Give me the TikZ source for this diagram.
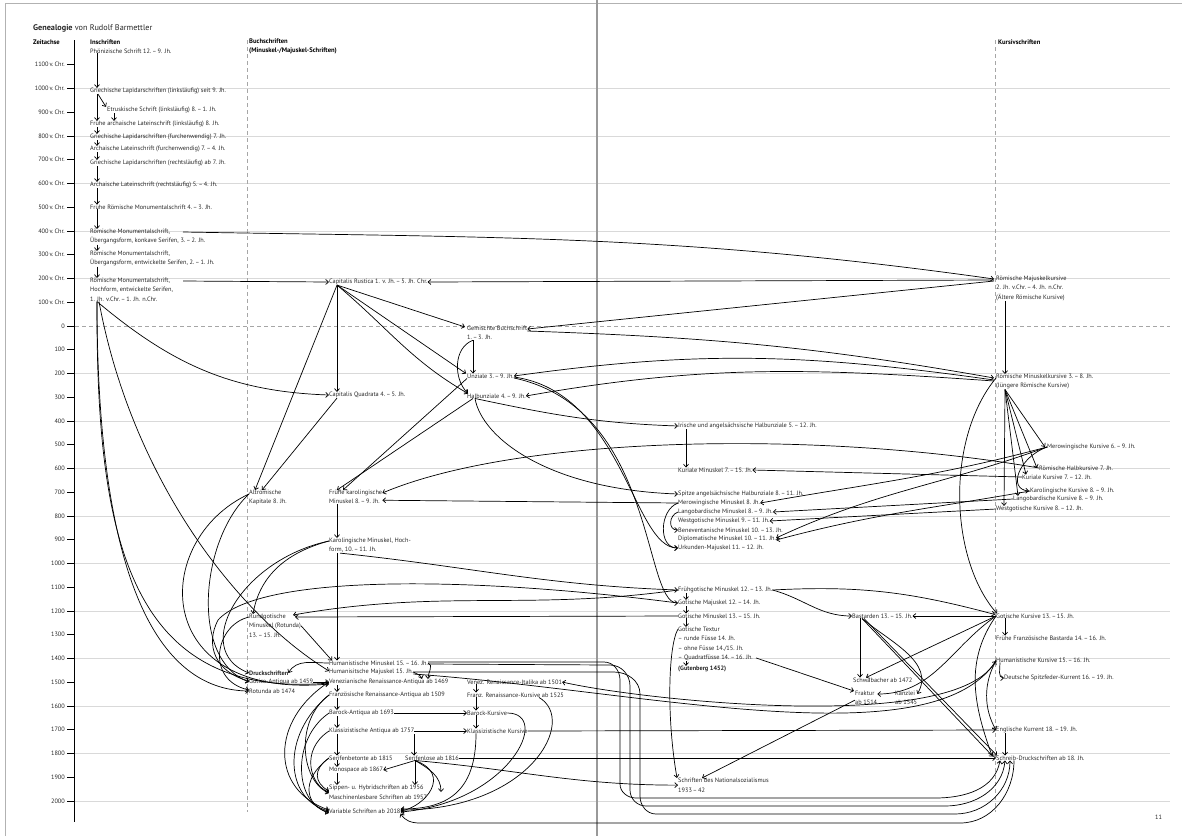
\documentclass[tikz,border=0pt]{standalone}
\usepackage{fontspec}
\setmainfont{PT Sans}
\usepackage{tikz}
\usetikzlibrary{arrows.meta}

\begin{document}
\begin{tikzpicture}[x=1pt,y=-1pt,
  every node/.style={font=\fontsize{6.3}{9.3}\selectfont, text=black!85, inner sep=0pt, anchor=west},
  multi/.style={anchor=north west, align=left},
  head/.style={font=\fontsize{6.6}{8.4}\selectfont\bfseries, text=black},
  arr/.style={-{Straight Barb[length=2.8pt,width=5pt]}, line width=0.7pt},
  grid/.style={black!15, line width=0.8pt},
  guide/.style={black!35, line width=0.6pt, dash pattern=on 4pt off 3pt}]
\useasboundingbox (0,0) rectangle (1182,836);

% Raster und Zeitachse
\draw[black!30, line width=0.8pt] (5,836) -- (5,3) -- (1182,3);
\foreach \t in {-1000,-800,...,2000}{
  \ifnum\t=0 \else
    \draw[grid] (75,{326+0.2375*\t}) -- (1170,{326+0.2375*\t});
  \fi}
\draw[guide] (75,326) -- (1170,326);
\draw[guide] (247,40) -- (247,812);
\draw[guide] (995,40) -- (995,812);
\draw[black!40, line width=1.4pt] (597,0) -- (597,836);
\draw[line width=0.9pt] (74,40) -- (74,822);
\foreach \t in {-1100,-1000,...,2000}{
  \pgfmathsetmacro\yy{326+0.2375*\t}
  \pgfmathtruncatemacro\aa{abs(\t)}
  \draw[line width=0.6pt] (67,\yy) -- (74,\yy);
  \ifnum\t<0 \node[anchor=east] (yr\t) at (65,\yy) {\aa\,v.\,Chr.};
  \else \node[anchor=east] (yr\t) at (65,\yy) {\aa};\fi
}

% Ueberschriften
\node (title) at (33,28) {\fontsize{8.2}{9}\selectfont\textbf{Genealogie} von Rudolf Barmettler};
\node[head] (hzeit) at (33,42) {Zeitachse};
\node[head] (hinsch) at (90,42) {Inschriften};
\node[head,multi] (hbuch) at (249,39) {Buchschriften\\(Minuskel-/Majuskel-Schriften)};
\node[head] (hkurs) at (998,42) {Kursivschriften};
\node (pnum) at (1155,817) {11};

% Inschriften
\node (phoe) at (90,51) {Phönizische Schrift 12.\,–\,9. Jh.};
\node (grl) at (90,91) {Griechische Lapidarschriften (linksläufig) seit 9. Jh.};
\node (etr) at (107,110) {Etruskische Schrift (linksläufig) 8.\,–\,1. Jh.};
\node (fal) at (90,124) {Frühe archaische Lateinschrift (linksläufig) 8. Jh.};
\node (grf) at (90,137) {Griechische Lapidarschriften (furchenwendig) 7. Jh.};
\node (alf) at (90,149) {Archaische Lateinschrift (furchenwendig) 7.\,–\,4. Jh.};
\node (grr) at (90,163) {Griechische Lapidarschriften (rechtsläufig) ab 7. Jh.};
\node (alr) at (90,185) {Archaische Lateinschrift (rechtsläufig) 5.\,–\,4. Jh.};
\node (frm) at (90,207) {Frühe Römische Monumentalschrift 4.\,–\,3. Jh.};
\node[multi] (rmk) at (90,229) {Römische Monumentalschrift,\\Übergangsform, konkave Serifen, 3.\,–\,2. Jh.};
\node[multi] (rme) at (90,251) {Römische Monumentalschrift,\\Übergangsform, entwickelte Serifen, 2.\,–\,1. Jh.};
\node[multi] (rmh) at (90,278) {Römische Monumentalschrift,\\Hochform, entwickelte Serifen,\\1. Jh. v.Chr.\,–\,1. Jh. n.Chr.};

% Buchschriften
\node (crus) at (329,282) {Capitalis Rustica 1. v. Jh.\,–\,5. Jh. Chr.};
\node (cqua) at (329,395) {Capitalis Quadrata 4.\,–\,5. Jh.};
\node[multi] (gemb) at (467,326) {Gemischte Buchschrift\\1.\,–\,3. Jh.};
\node (unz) at (467,376) {Unziale 3.\,–\,9. Jh.};
\node (hunz) at (467,396) {Halbunziale 4.\,–\,9. Jh.};
\node[multi] (altk) at (249,490) {Altrömische\\Kapitale 8. Jh.};
\node[multi] (fkar) at (329,490) {Frühe karolingische\\Minuskel 8.\,–\,9. Jh.};
\node[multi] (kar) at (329,538) {Karolingische Minuskel, Hoch-\\form, 10.\,–\,11. Jh.};
\node[multi] (rund) at (249,614) {Rundgotische\\Minuskel (Rotunda)\\13.\,–\,15. Jh.};
\node (humi) at (329,663) {Humanistische Minuskel 15.\,–\,16. Jh.};
\node (huma) at (329,672) {Humanisitsche Majuskel 15. Jh.};
\node[font=\fontsize{6.3}{9.3}\selectfont\bfseries] (druck) at (249,673) {Druckschriften};
\node (gant) at (249,682) {Gotico-Antiqua ab 1459};
\node (rot) at (249,691) {Rotunda ab 1474};
\node (vena) at (329,682) {Venezianische Renaissance-Antiqua ab 1469};
\node (fran) at (329,695) {Französische Renaissance-Antiqua ab 1509};
\node (vita) at (467,682) {Venez. Renaissance-Italika ab 1501};
\node (fkur) at (467,695) {Franz. Renaissance-Kursive ab 1525};
\node (bant) at (329,713) {Barock-Antiqua ab 1693};
\node (bkur) at (467,713) {Barock-Kursive};
\node (kant) at (329,731) {Klassizistische Antiqua ab 1757};
\node (kkur) at (467,731) {Klassizistische Kursive};
\node (sbet) at (329,758) {Serifenbetonte ab 1815};
\node (slos) at (405,758) {Serifenlose ab 1816};
\node (mono) at (329,770) {Monospace ab 1867};
\node[multi] (sipp) at (329,785) {Sippen- u. Hybridschriften ab 1956\\Maschinenlesbare Schriften ab 1957};
\node (var) at (329,811) {Variable Schriften ab 2018};

% Mitte
\node (iri) at (678,426) {Irische und angelsächsische Halbunziale 5.\,–\,12. Jh.};
\node (kurm) at (678,470) {Kuriale Minuskel 7.\,–\,15. Jh.};
\node (spit) at (678,494) {Spitze angelsächsische Halbunziale 8.\,–\,11. Jh.};
\node (merm) at (678,503) {Merowingische Minuskel 8. Jh.};
\node (lanm) at (678,512) {Langobardische Minuskel 8.\,–\,9. Jh.};
\node (wesm) at (678,521) {Westgotische Minuskel 9.\,–\,11. Jh.};
\node (benm) at (678,530) {Beneventanische Minuskel 10.\,–\,13. Jh.};
\node (dipm) at (678,539) {Diplomatische Minuskel 10.\,–\,11. Jh.};
\node (urk) at (678,548) {Urkunden-Majuskel 11.\,–\,12. Jh.};
\node (frgm) at (678,590) {Frühgotische Minuskel 12.\,–\,13. Jh.};
\node (gmaj) at (678,603) {Gotische Majuskel 12.\,–\,14. Jh.};
\node (gmin) at (678,616) {Gotische Minuskel 13.\,–\,15. Jh.};
\node[multi] (textur) at (678,627) {Gotische Textur\\– runde Füsse 14. Jh.\\– ohne Füsse 14./15. Jh.\\– Quadratfüsse 14.\,–\,16. Jh.};
\node[font=\fontsize{6.3}{9.3}\selectfont\bfseries] (gut) at (678,669) {(Gutenberg 1452)};
\node[multi] (nazi) at (678,778) {Schriften des Nationalsozialismus\\1933\,–\,42};
\node (bast) at (852,616) {Bastarden 13.\,–\,15. Jh.};
\node (schw) at (853,680) {Schwabacher ab 1472};
\node[multi] (frak) at (855,691) {Fraktur\\ab 1514};
\node[multi] (kanz) at (895,691) {Kanzlei\\ab 1545};

% Kursivschriften
\node[multi] (rmaj) at (996,276) {Römische Majuskelkursive\\2. Jh. v.Chr.\,–\,4. Jh. n.Chr.\\(Ältere Römische Kursive)};
\node[multi] (rmin) at (996,374) {Römische Minuskelkursive 3.\,–\,8. Jh.\\(Jüngere Römische Kursive)};
\node (merk) at (1047,447) {Merowingische Kursive 6.\,–\,9. Jh.};
\node (rhalb) at (1039,468) {Römische Halbkursive 7. Jh.};
\node (kurk) at (1022,477) {Kuriale Kursive 7.\,–\,12. Jh.};
\node (kark) at (1030,491) {Karolingische Kursive 8.\,–\,9. Jh.};
\node (lank) at (1013,499) {Langobardische Kursive 8.\,–\,9. Jh.};
\node (wesk) at (996,509) {Westgotische Kursive 8.\,–\,12. Jh.};
\node (gkur) at (996,616) {Gotische Kursive 13.\,–\,15. Jh.};
\node (ffb) at (996,638) {Frühe Französische Bastarda 14.\,–\,16. Jh.};
\node (hkur) at (996,660) {Humanistische Kursive 15.\,–\,16. Jh.};
\node (dsk) at (1004,678) {Deutsche Spitzfeder-Kurrent 16.\,–\,19. Jh.};
\node (ekur) at (996,730) {Englische Kurrent 18.\,–\,19. Jh.};
\node (sdr) at (996,758) {Schreib-Druckschriften ab 18. Jh.};

% Inschriften: Abfolge
\foreach \a/\b in {phoe/grl,grl/fal,fal/grf,grf/alf,alf/grr,grr/alr,alr/frm,frm/rmk,rmk/rme,rme/rmh}
  \draw[arr] ([xshift=7pt]\a.south west) -- ([xshift=7pt]\b.north west);
\draw[arr] ([xshift=8pt]grl.south west) -- ([xshift=-1pt]etr.north west);
\draw[arr] ([xshift=7pt]etr.south west) -- ([xshift=24pt]fal.north west);
\draw[arr] ([xshift=93pt,yshift=-3pt]rmk.north west) to[out=-1,in=172] ([xshift=-2pt,yshift=-3pt]rmaj.north west);
\draw[arr] ([xshift=93pt,yshift=-3pt]rmh.north west) -- (crus.west);
\draw[arr] ([xshift=-2pt,yshift=-4pt]rmaj.north west) -- (crus.east);
\draw[arr] ([xshift=-2pt,yshift=-5pt]rmaj.north west) -- ([yshift=-3pt]gemb.north east);
\draw[arr] ([yshift=-5pt]gemb.north east) to[out=-2,in=170] ([xshift=-2pt,yshift=-4pt]rmin.north west);
\draw[arr] ([xshift=9pt]rmaj.south west) -- ([xshift=9pt]rmin.north west);

% Capitalis Rustica
\coordinate (crusb) at ([xshift=8pt]crus.south west);
\draw[arr] (crusb) -- ([xshift=8pt]cqua.north west);
\draw[arr] (crusb) -- ([xshift=-2pt,yshift=-1pt]gemb.north west);
\draw[arr] (crusb) -- ([xshift=-1pt]unz.north west);
\draw[arr] (crusb) to[out=-40,in=150] ([xshift=1pt]hunz.north west);
\draw[arr] (crusb) -- ([xshift=6pt]altk.north west);
\draw[arr] ([xshift=8pt]cqua.south west) -- ([xshift=13pt]altk.north west);
\draw[arr] ([xshift=7pt]rmh.south west) to[out=-40,in=178] (cqua.west);

% Unziale, Halbunziale
\draw[arr] ([xshift=6pt]gemb.south west) -- ([xshift=6pt]unz.north west);
\draw[arr] ([xshift=6pt]gemb.south west) to[out=200,in=135] ([xshift=1pt]hunz.north west);
\draw[arr] (unz.south west) -- ([xshift=14pt]fkar.north west);
\draw[arr] ([xshift=6pt]hunz.south west) -- ([xshift=8pt]fkar.north west);
\draw[arr] ([xshift=-2pt,yshift=-6pt]rmin.north west) to[out=172,in=8] (unz.east);
\draw[arr] ([xshift=-2pt,yshift=-7pt]rmin.north west) to[out=176,in=10] (hunz.east);
\draw[arr] ([yshift=-1pt]unz.east) to[out=-8,in=180,out distance=110pt,in distance=45pt] (urk.west);
\draw[arr] ([yshift=-2pt]unz.east) to[out=-12,in=180,out distance=145pt,in distance=35pt] (gmaj.west);
\draw[arr] ([xshift=8pt]hunz.south west) to[out=-12,in=178] (iri.west);
\draw[arr] ([xshift=8pt]hunz.south west) to[out=-80,in=178,out distance=40pt,in distance=130pt] (spit.west);
\draw[arr] ([xshift=8pt]iri.south west) -- ([xshift=8pt]kurm.north west);

% Karolingische Minuskel
\draw[arr] ([xshift=8pt]fkar.south west) -- ([xshift=8pt]kar.north west);
\draw[arr] ([xshift=8pt]kar.south west) -- ([xshift=8pt]humi.north west);
\draw[arr] (rhalb.west) .. controls (820,430) and (520,435) .. ([yshift=-3pt]fkar.north east);
\draw[arr] (merm.west) -- ([yshift=4pt]fkar.south east);
\draw[arr] ([xshift=11pt]kar.south west) to[out=-6,in=178] (frgm.west);
\draw[arr] ([yshift=-3pt]kar.north west) to[out=195,in=80] ([xshift=4pt]rund.north west);
\draw[arr] (frgm.west) to[out=188,in=10] ([xshift=44pt,yshift=-1pt]rund.north west);
\draw[arr] (gmin.west) -- ([xshift=46pt,yshift=-3pt]rund.north west);
\draw[arr] (merm.west) to[out=200,in=180,out distance=20pt,in distance=20pt] (urk.west);
\draw[arr] (lanm.west) to[out=200,in=180,out distance=10pt,in distance=10pt] (benm.west);

% linkes Geflecht
\draw[arr] ([xshift=7pt]rmh.south west) .. controls (96,540) and (130,700) .. ([yshift=-1pt]vena.west);
\draw[arr] ([xshift=9pt]rmh.south west) .. controls (130,470) and (230,610) .. ([yshift=1pt]huma.west);
\draw[arr] ([xshift=7pt]rmh.south west) .. controls (97,560) and (150,690) .. (rot.west);
\draw[arr] ([yshift=-4pt]altk.north west) .. controls (150,540) and (150,700) .. ([yshift=-2pt]vena.west);
\draw[arr] ([yshift=-4pt]altk.north west) .. controls (200,540) and (190,660) .. (gant.west);
\draw[arr] ([yshift=-3pt]kar.north west) .. controls (240,560) and (190,650) .. (druck.west);
\draw[arr] (gmaj.west) .. controls (470,576) and (260,574) .. (218,620) .. controls (205,645) and (215,672) .. ([yshift=1pt]gant.west);
\draw[arr] ([yshift=-3pt]rund.north west) .. controls (215,625) and (205,680) .. ([yshift=1pt]rot.west);
\draw[arr] (rund.east) -- ([xshift=3pt]humi.north west);
\draw[arr] (humi.west) to[out=180,in=60] (druck.east);
\draw[arr] (gant.east) -- (vena.west);
\draw[arr] (humi.east) to[out=-20,in=90] ([xshift=99pt]vena.north west);
\draw[arr] (huma.east) to[out=-30,in=110] ([xshift=93pt]vena.north west);

% Druckschriften
\foreach \a/\b in {vena/fran,fran/bant,bant/kant,kant/sbet,sbet/mono,mono/sipp}
  \draw[arr] ([xshift=8pt]\a.south west) -- ([xshift=8pt]\b.north west);
\foreach \a/\b in {vita/fkur,fkur/bkur,bkur/kkur}
  \draw[arr] ([xshift=9pt]\a.south west) -- ([xshift=9pt]\b.north west);
\draw[arr] (bant.east) -- (bkur.west);
\draw[arr] (kant.east) -- (kkur.west);
\draw[arr] ([xshift=85pt]kant.south west) -- ([xshift=9pt]slos.north west);
\coordinate (slosb) at ([xshift=10pt]slos.south west);
\draw[arr] (slosb) -- (mono.east);
\draw[arr] (slosb) -- ([xshift=86pt]sipp.north west);
\draw[arr] (slosb) to[out=-30,in=90] ([xshift=112pt,yshift=-7pt]sipp.north west);
\draw[arr] (slosb) to[out=-20,in=10,out distance=40pt,in distance=25pt] (var.east);
\draw[arr] (slosb) to[out=-5,in=180] (nazi.west);
\draw[arr] (slos.east) -- (sdr.west);
\draw[arr] (kkur.east) -- (ekur.west);
\draw[arr] ([xshift=-25pt]fkur.south east) to[out=-30,in=0,out distance=45pt,in distance=130pt] ([yshift=1pt]var.east);
\draw[arr] (bkur.east) to[out=0,in=5,out distance=45pt,in distance=110pt] ([yshift=-1pt]var.east);
\draw[arr] ([xshift=9pt]kkur.south west) to[out=-90,in=0,out distance=60pt,in distance=45pt] ([yshift=2pt]var.east);
\draw[arr] (vena.west) .. controls (270,720) and (270,790) .. ([yshift=1pt]var.west);
\draw[arr] (fran.west) .. controls (280,735) and (285,800) .. (var.west);
\draw[arr] (fran.west) .. controls (295,720) and (300,780) .. ([yshift=-1pt]sipp.west);
\draw[arr] (bant.west) .. controls (290,740) and (295,805) .. ([yshift=-1pt]var.west);
\draw[arr] (kant.west) .. controls (300,750) and (310,785) .. (sipp.west);
\draw[arr] (sbet.west) .. controls (312,770) and (315,783) .. ([yshift=1pt]sipp.west);
\draw[arr] (sbet.west) .. controls (300,780) and (305,805) .. ([yshift=-2pt]var.west);

% Schleifen zu den Schreib-Druckschriften
\draw[arr] ([yshift=1pt]humi.east) -- (604,662) to[out=0,in=90] (620,680) -- (620,784) to[out=-90,in=180] (636,798) -- (935,798) to[out=0,in=-100] ([xshift=4pt]sdr.south west);
\draw[arr] ([yshift=-1pt]humi.east) -- (610,665) to[out=0,in=90] (630,686) -- (630,790) to[out=-90,in=180] (646,806) -- (945,806) to[out=0,in=-95] ([xshift=9pt]sdr.south west);
\draw[arr] (huma.east) -- (614,672) to[out=0,in=90] (640,694) -- (640,796) to[out=-90,in=180] (656,814) -- (955,814) to[out=0,in=-90] ([xshift=14pt]sdr.south west);
\draw[arr] ([xshift=18pt]sdr.south west) to[out=-90,in=0] (960,823) -- (420,823) to[out=180,in=-60] (var.south east);
\draw[arr] (hkur.west) .. controls (960,735) and (640,700) .. (vita.east);
\draw[arr] ([yshift=-2pt]huma.east) .. controls (640,690) and (930,760) .. ([yshift=-1pt]hkur.west);

% Kursive
\coordinate (rminb) at ([xshift=9pt]rmin.south west);
\draw[arr] (rminb) -- ([xshift=-2pt]merk.west);
\draw[arr] (rminb) -- ([xshift=-2pt]rhalb.west);
\draw[arr] (rminb) -- ([xshift=4pt]kurk.north west);
\draw[arr] (rminb) -- ([xshift=5pt]lank.north west);
\draw[arr] (rminb) -- ([xshift=8pt]wesk.north west);
\draw[arr] (merk.west) to[out=200,in=175,out distance=30pt,in distance=22pt] ([xshift=-1pt]kark.west);
\draw[arr] (kurk.west) -- (kurm.east);
\draw[arr] (merk.west) to[out=195,in=10] (merm.east);
\draw[arr] (lank.west) -- (lanm.east);
\draw[arr] (wesk.west) -- (wesm.east);
\draw[arr] (merk.west) to[out=200,in=25] ([yshift=1pt]dipm.east);
\draw[arr] (kark.west) to[out=190,in=15] ([yshift=-1pt]dipm.east);
\draw[arr] ([yshift=-4pt]rmin.north west) .. controls (945,440) and (950,560) .. ([xshift=1pt]gkur.north west);

% Gotische Schriften
\foreach \a/\b in {frgm/gmaj,gmaj/gmin,gmin/textur,textur/gut}
  \draw[arr] ([xshift=8pt]\a.south west) -- ([xshift=8pt]\b.north west);
\draw[arr] ([xshift=9pt]gkur.south west) -- ([xshift=9pt]ffb.north west);
\draw[arr] (gkur.west) -- (bast.east);
\draw[arr] (frgm.east) to[out=-15,in=180] (bast.west);
\draw[arr] (frgm.east) to[out=3,in=165] ([xshift=-1pt,yshift=-1pt]gkur.north west);
\draw[arr] ([xshift=8pt]bast.south west) -- ([xshift=7pt]schw.north west);
\draw[arr] ([xshift=3pt,yshift=3pt]textur.south east) -- ([xshift=-1pt]frak.north west);
\draw[arr] ([yshift=-2pt]frak.west) -- ([xshift=24pt]nazi.north west);
\draw[arr] ([yshift=-2pt]textur.north west) to[out=240,in=100,out distance=20pt,in distance=60pt] ([xshift=-1pt]nazi.north west);
\draw[arr] (gkur.west) -- ([xshift=13pt]schw.north west);
\draw[arr] (gkur.west) to[out=215,in=0] ([yshift=-3pt]frak.north east);
\draw[arr] ([xshift=10pt]bast.south west) to[out=-40,in=60] ([yshift=-3pt]kanz.north east);
\draw[arr] ([xshift=10pt]bast.south west) -- ([xshift=-3pt,yshift=-1pt]sdr.north west);
\draw[arr] ([xshift=12pt]bast.south west) -- ([xshift=1pt]sdr.north west);
\draw[arr] (gkur.west) to[out=235,in=110] ([xshift=-4pt]sdr.north west);
\draw[arr] ([yshift=-1pt]hkur.west) to[out=240,in=120,out distance=25pt,in distance=25pt] (ekur.west);
\draw[arr] ([xshift=4pt]hkur.south west) to[out=-90,in=180] (dsk.west);
\draw[arr] ([xshift=9pt]ekur.south west) -- ([xshift=9pt]sdr.north west);
\end{tikzpicture}
\end{document}
